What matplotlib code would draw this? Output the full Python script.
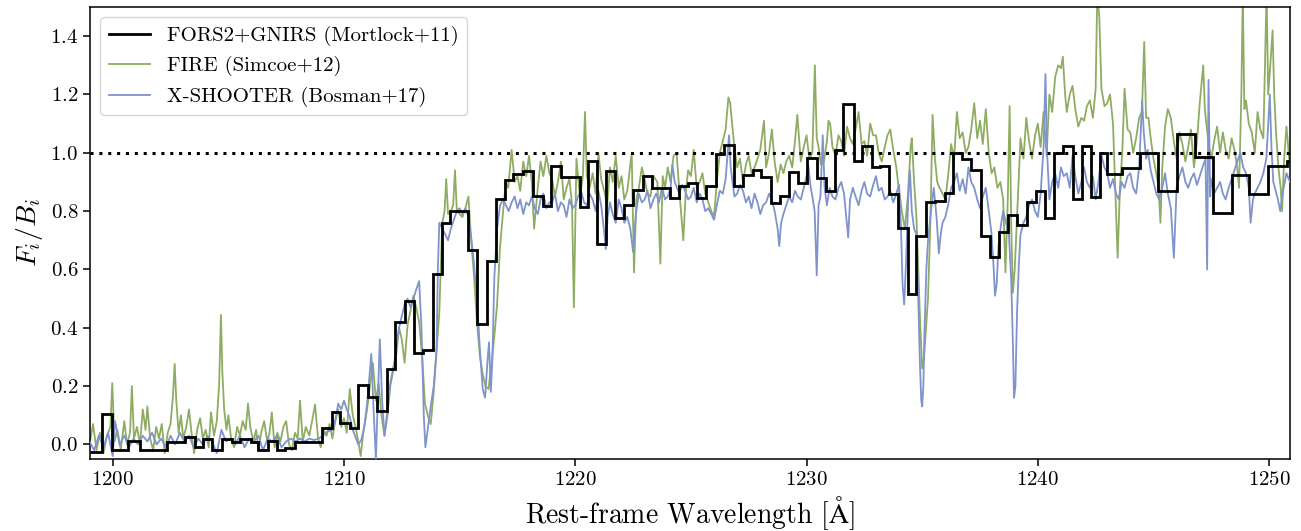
import numpy as np
import matplotlib
matplotlib.use("Agg")
import matplotlib.pyplot as plt

plt.rcParams["font.family"] = "serif"
plt.rcParams["font.serif"] = ["cmr10", "DejaVu Serif"]
plt.rcParams["mathtext.fontset"] = "cm"
plt.rcParams["axes.formatter.use_mathtext"] = True

# binned FORS2+GNIRS spectrum: bin edges and normalised flux per bin
fors_edges = [1199.0, 1199.55, 1199.96, 1200.67, 1201.18, 1202.33, 1203.13, 1203.56, 1203.92, 1204.28,
              1204.71, 1205.14, 1205.5, 1206.0, 1206.3, 1206.7, 1207.09, 1207.45, 1207.88, 1209.04,
              1209.47, 1209.83, 1210.26, 1210.62, 1211.05, 1211.44, 1211.85, 1212.2, 1212.64, 1213.03,
              1213.4, 1213.83, 1214.22, 1214.58, 1215.37, 1215.76, 1216.17, 1216.57, 1216.96, 1217.32,
              1217.75, 1218.18, 1218.59, 1218.95, 1219.37, 1220.2, 1220.54, 1220.93, 1221.33, 1221.72,
              1222.1, 1222.51, 1222.91, 1223.3, 1224.09, 1224.48, 1224.89, 1225.25, 1225.65, 1226.08,
              1226.44, 1226.86, 1227.26, 1227.67, 1228.03, 1228.45, 1228.85, 1229.25, 1229.62, 1230.03,
              1230.44, 1230.83, 1231.23, 1231.59, 1232.03, 1232.39, 1232.82, 1233.18, 1233.58, 1233.97,
              1234.37, 1234.73, 1235.16, 1235.55, 1235.97, 1236.34, 1236.74, 1237.13, 1237.53, 1237.93,
              1238.33, 1238.72, 1239.08, 1239.52, 1239.92, 1240.31, 1240.7, 1241.1, 1241.5, 1241.89,
              1242.28, 1242.68, 1243.0, 1243.62, 1244.41, 1245.2, 1246.0, 1246.79, 1247.58, 1248.38,
              1249.14, 1249.96, 1250.76, 1251.0]
fors_flux = [-0.027, 0.104, -0.02, 0.012, -0.02, 0.007, 0.026, -0.008, 0.018, -0.02,
             0.017, 0.01, 0.017, 0.007, -0.02, 0.012, -0.02, -0.013, 0.01, 0.055,
             0.11, 0.072, 0.057, 0.204, 0.164, 0.116, 0.258, 0.421, 0.493, 0.313,
             0.324, 0.585, 0.761, 0.801, 0.665, 0.413, 0.63, 0.842, 0.906, 0.928,
             0.939, 0.851, 0.819, 0.954, 0.917, 0.814, 0.971, 0.687, 0.937, 0.776,
             0.822, 0.871, 0.922, 0.879, 0.845, 0.885, 0.897, 0.845, 0.887, 0.997,
             1.028, 0.887, 0.925, 0.94, 0.917, 0.828, 0.853, 0.933, 0.897, 0.982,
             0.914, 0.868, 1.011, 1.169, 0.971, 1.022, 0.952, 0.956, 0.86, 0.742,
             0.516, 0.716, 0.83, 0.836, 0.862, 1.0, 0.979, 0.942, 0.716, 0.642,
             0.727, 0.788, 0.753, 0.83, 0.868, 0.776, 1.0, 1.022, 0.842, 1.022,
             0.849, 1.0, 0.927, 0.948, 1.0, 0.868, 1.065, 0.985, 0.794, 0.925,
             0.86, 0.954, 0.971]

# FIRE spectrum (wavelength, F/B)
fire = np.array([
    (1199.0, 0.0), (1199.15, 0.07), (1199.3, -0.02), (1199.45, 0.04), (1199.6, -0.03), (1199.75, 0.03),
    (1199.9, 0.06), (1199.98, 0.21), (1200.08, 0.01), (1200.2, 0.05), (1200.35, -0.02), (1200.5, 0.08),
    (1200.62, 0.0), (1200.75, 0.04), (1200.83, 0.2), (1200.92, 0.02), (1201.05, 0.06), (1201.18, 0.0),
    (1201.3, 0.12), (1201.42, 0.05), (1201.5, 0.13), (1201.62, 0.02), (1201.75, -0.02), (1201.88, 0.06),
    (1202.0, 0.02), (1202.12, 0.07), (1202.25, -0.03), (1202.38, 0.04), (1202.5, 0.07), (1202.6, 0.16),
    (1202.68, 0.276), (1202.75, 0.15), (1202.85, 0.04), (1202.95, 0.1), (1203.05, 0.02), (1203.18, 0.06),
    (1203.3, 0.12), (1203.42, 0.03), (1203.52, -0.03), (1203.65, 0.05), (1203.78, 0.09), (1203.9, 0.02),
    (1204.02, 0.05), (1204.15, -0.01), (1204.25, 0.11), (1204.38, 0.03), (1204.5, 0.08), (1204.6, 0.2),
    (1204.68, 0.444), (1204.74, 0.25), (1204.82, 0.12), (1204.92, 0.05), (1205.0, 0.1), (1205.12, 0.02),
    (1205.25, -0.01), (1205.38, 0.06), (1205.5, 0.03), (1205.62, 0.08), (1205.75, 0.05), (1205.85, 0.14),
    (1205.95, 0.06), (1206.08, 0.01), (1206.2, 0.05), (1206.3, -0.02), (1206.42, 0.04), (1206.55, 0.08),
    (1206.68, 0.01), (1206.78, 0.04), (1206.88, 0.11), (1207.0, -0.01), (1207.12, 0.04), (1207.25, 0.01),
    (1207.38, 0.06), (1207.5, 0.08), (1207.62, 0.0), (1207.75, -0.02), (1207.88, 0.04), (1208.0, 0.02),
    (1208.1, 0.15), (1208.22, 0.01), (1208.35, 0.06), (1208.5, 0.03), (1208.62, 0.08), (1208.75, 0.137),
    (1208.88, 0.02), (1209.0, -0.01), (1209.12, 0.05), (1209.25, 0.03), (1209.38, 0.07), (1209.5, 0.02),
    (1209.62, 0.08), (1209.75, 0.12), (1209.88, 0.06), (1210.0, 0.09), (1210.12, 0.04), (1210.25, 0.19),
    (1210.38, 0.1), (1210.5, 0.06), (1210.62, 0.01), (1210.72, -0.04), (1210.85, 0.05), (1211.0, 0.12),
    (1211.12, 0.2), (1211.25, 0.28), (1211.38, 0.15), (1211.5, 0.21), (1211.62, 0.1), (1211.75, 0.03),
    (1211.88, 0.12), (1212.0, 0.21), (1212.12, 0.26), (1212.25, 0.3), (1212.38, 0.4), (1212.5, 0.36),
    (1212.62, 0.28), (1212.75, 0.41), (1212.88, 0.46), (1213.0, 0.51), (1213.12, 0.47), (1213.25, 0.42),
    (1213.38, 0.3), (1213.5, 0.14), (1213.62, 0.1), (1213.75, 0.07), (1213.88, 0.18), (1214.0, 0.32),
    (1214.12, 0.45), (1214.25, 0.76), (1214.35, 0.8), (1214.42, 0.91), (1214.5, 0.79), (1214.62, 0.8),
    (1214.72, 0.82), (1214.8, 0.94), (1214.88, 0.8), (1215.0, 0.79), (1215.12, 0.78), (1215.25, 0.81),
    (1215.38, 0.85), (1215.5, 0.7), (1215.62, 0.58), (1215.75, 0.42), (1215.88, 0.3), (1216.0, 0.24),
    (1216.12, 0.2), (1216.25, 0.19), (1216.38, 0.28), (1216.5, 0.37), (1216.62, 0.48), (1216.75, 0.68),
    (1216.88, 0.8), (1217.0, 0.9), (1217.1, 0.88), (1217.25, 1.01), (1217.38, 0.9), (1217.5, 0.92),
    (1217.62, 0.87), (1217.75, 0.97), (1217.88, 0.92), (1218.0, 0.99), (1218.12, 0.9), (1218.22, 0.74),
    (1218.38, 0.88), (1218.5, 0.97), (1218.62, 0.92), (1218.75, 0.99), (1218.88, 0.93), (1219.0, 0.91),
    (1219.12, 0.85), (1219.25, 0.9), (1219.38, 0.97), (1219.5, 0.84), (1219.62, 0.88), (1219.75, 0.91),
    (1219.86, 0.82), (1219.94, 0.47), (1220.05, 0.98), (1220.2, 0.85), (1220.33, 0.92), (1220.42, 1.14),
    (1220.5, 0.92), (1220.62, 0.88), (1220.75, 0.93), (1220.88, 0.86), (1221.0, 1.0), (1221.12, 0.91),
    (1221.25, 0.87), (1221.38, 0.82), (1221.5, 0.95), (1221.62, 0.9), (1221.75, 0.99), (1221.88, 0.88),
    (1222.0, 0.92), (1222.12, 0.84), (1222.25, 0.87), (1222.44, 1.0), (1222.54, 0.59), (1222.64, 0.84),
    (1222.75, 0.88), (1222.88, 0.95), (1223.0, 0.91), (1223.12, 0.86), (1223.25, 0.85), (1223.38, 0.92),
    (1223.55, 0.9), (1223.68, 0.62), (1223.78, 0.92), (1223.88, 0.88), (1224.0, 0.95), (1224.12, 0.9),
    (1224.25, 0.99), (1224.38, 1.0), (1224.5, 0.87), (1224.67, 0.7), (1224.78, 0.87), (1224.88, 0.94),
    (1225.0, 0.92), (1225.12, 1.01), (1225.25, 0.88), (1225.38, 0.9), (1225.5, 0.93), (1225.62, 0.86),
    (1225.75, 0.83), (1225.88, 0.8), (1226.0, 0.78), (1226.12, 0.9), (1226.25, 1.0), (1226.38, 1.04),
    (1226.5, 1.08), (1226.62, 1.19), (1226.7, 1.17), (1226.78, 1.1), (1226.88, 1.02), (1227.0, 0.95),
    (1227.12, 0.98), (1227.25, 0.9), (1227.38, 0.96), (1227.5, 0.99), (1227.62, 0.93), (1227.75, 0.95),
    (1227.88, 0.98), (1228.0, 1.01), (1228.16, 1.11), (1228.25, 0.95), (1228.38, 1.0), (1228.5, 1.08),
    (1228.62, 0.97), (1228.75, 0.9), (1228.88, 0.96), (1229.0, 0.93), (1229.12, 0.97), (1229.25, 0.99),
    (1229.38, 0.95), (1229.5, 1.04), (1229.6, 1.13), (1229.75, 0.97), (1229.88, 1.02), (1230.0, 1.06),
    (1230.12, 0.98), (1230.25, 1.0), (1230.36, 1.3), (1230.44, 1.05), (1230.52, 1.02), (1230.62, 0.96),
    (1230.75, 0.97), (1230.88, 1.04), (1230.95, 1.11), (1231.02, 1.1), (1231.12, 1.02), (1231.25, 0.99),
    (1231.38, 1.06), (1231.5, 1.04), (1231.62, 0.99), (1231.75, 1.09), (1231.88, 1.05), (1232.0, 1.03),
    (1232.12, 1.08), (1232.25, 1.14), (1232.38, 1.03), (1232.5, 1.04), (1232.62, 0.99), (1232.75, 1.1),
    (1232.88, 1.06), (1233.0, 1.06), (1233.12, 1.0), (1233.25, 0.97), (1233.38, 1.02), (1233.5, 1.06),
    (1233.62, 1.08), (1233.75, 1.01), (1233.88, 0.95), (1234.0, 0.87), (1234.12, 0.8), (1234.25, 0.74),
    (1234.38, 0.85), (1234.5, 1.02), (1234.55, 1.05), (1234.65, 0.9), (1234.75, 0.78), (1234.85, 0.55),
    (1234.92, 0.4), (1235.0, 0.26), (1235.08, 0.3), (1235.15, 0.38), (1235.25, 0.5), (1235.35, 0.75),
    (1235.45, 1.13), (1235.55, 0.98), (1235.65, 0.9), (1235.75, 0.88), (1235.88, 0.86), (1236.0, 0.84),
    (1236.12, 0.92), (1236.25, 1.03), (1236.38, 0.98), (1236.5, 1.14), (1236.62, 1.05), (1236.75, 1.07),
    (1236.88, 1.0), (1237.0, 1.02), (1237.12, 1.08), (1237.25, 1.17), (1237.38, 1.05), (1237.5, 1.11),
    (1237.62, 1.03), (1237.75, 1.15), (1237.88, 1.0), (1238.0, 0.93), (1238.12, 0.95), (1238.25, 0.88),
    (1238.38, 0.9), (1238.5, 0.84), (1238.6, 0.59), (1238.7, 0.84), (1238.78, 1.16), (1238.85, 0.75),
    (1238.92, 0.52), (1239.0, 0.6), (1239.1, 0.78), (1239.25, 1.05), (1239.38, 0.98), (1239.5, 1.12),
    (1239.62, 1.04), (1239.75, 0.98), (1239.88, 1.06), (1240.0, 1.1), (1240.12, 1.02), (1240.25, 1.14),
    (1240.38, 0.99), (1240.5, 1.2), (1240.62, 1.14), (1240.75, 1.26), (1240.88, 1.3), (1241.0, 1.29),
    (1241.08, 1.33), (1241.18, 1.2), (1241.25, 1.14), (1241.38, 1.2), (1241.5, 1.23), (1241.62, 1.15),
    (1241.75, 1.09), (1241.88, 1.12), (1242.0, 1.11), (1242.12, 1.16), (1242.25, 1.18), (1242.38, 1.12),
    (1242.5, 1.22), (1242.57, 1.55), (1242.66, 1.46), (1242.75, 1.22), (1242.88, 1.16), (1243.0, 1.17),
    (1243.12, 1.2), (1243.25, 1.1), (1243.38, 0.8), (1243.45, 0.64), (1243.55, 0.88), (1243.65, 1.0),
    (1243.75, 1.22), (1243.88, 1.08), (1244.0, 1.07), (1244.12, 1.0), (1244.25, 1.05), (1244.38, 1.12),
    (1244.5, 1.14), (1244.6, 1.38), (1244.68, 1.12), (1244.78, 1.12), (1244.88, 1.05), (1245.0, 0.98),
    (1245.12, 0.93), (1245.22, 0.88), (1245.3, 0.76), (1245.38, 0.95), (1245.5, 1.09), (1245.62, 1.15),
    (1245.75, 1.12), (1245.88, 1.04), (1246.0, 0.98), (1246.12, 1.07), (1246.25, 1.03), (1246.38, 0.97),
    (1246.5, 1.02), (1246.62, 1.08), (1246.75, 0.95), (1246.88, 1.04), (1247.0, 1.17), (1247.15, 1.3),
    (1247.22, 1.15), (1247.3, 1.09), (1247.4, 1.02), (1247.5, 0.98), (1247.62, 1.04), (1247.75, 1.09),
    (1247.88, 1.0), (1248.0, 1.07), (1248.12, 1.01), (1248.25, 0.98), (1248.38, 1.05), (1248.5, 1.01),
    (1248.62, 0.95), (1248.7, 0.88), (1248.8, 1.2), (1248.86, 1.55), (1248.93, 1.15), (1249.0, 1.18),
    (1249.12, 1.1), (1249.25, 1.07), (1249.38, 1.0), (1249.5, 1.14), (1249.62, 1.08), (1249.75, 1.05),
    (1249.89, 1.55), (1249.96, 1.2), (1250.05, 1.3), (1250.15, 1.42), (1250.22, 1.2), (1250.3, 1.07),
    (1250.4, 0.95), (1250.5, 0.88), (1250.56, 0.8), (1250.65, 0.98), (1250.75, 1.09), (1250.9, 0.95),
])

# X-SHOOTER spectrum (wavelength, F/B)
xshooter = np.array([
    (1199.0, 0.01), (1199.2, -0.02), (1199.4, 0.03), (1199.6, -0.01), (1199.8, 0.04), (1200.0, -0.04),
    (1200.1, 0.08), (1200.3, 0.0), (1200.5, 0.03), (1200.7, -0.01), (1200.9, 0.02), (1201.1, 0.0),
    (1201.3, 0.03), (1201.5, 0.01), (1201.7, 0.04), (1201.9, 0.0), (1202.1, 0.02), (1202.3, -0.01),
    (1202.5, 0.03), (1202.7, 0.0), (1202.9, 0.04), (1203.1, 0.01), (1203.3, 0.03), (1203.5, -0.01),
    (1203.7, 0.02), (1203.9, 0.0), (1204.1, 0.03), (1204.3, 0.01), (1204.5, -0.03), (1204.7, 0.05),
    (1204.9, 0.01), (1205.1, 0.02), (1205.3, 0.0), (1205.5, 0.03), (1205.7, -0.01), (1205.9, 0.02),
    (1206.1, 0.01), (1206.3, 0.03), (1206.5, -0.02), (1206.7, 0.02), (1206.9, 0.01), (1207.1, 0.03),
    (1207.3, -0.01), (1207.5, 0.01), (1207.7, 0.02), (1207.9, 0.01), (1208.1, 0.02), (1208.3, 0.01),
    (1208.5, 0.02), (1208.7, 0.015), (1208.9, 0.02), (1209.1, 0.03), (1209.3, 0.045),
    (1209.5, 0.05), (1209.62, 0.08), (1209.75, 0.14), (1209.88, 0.12), (1210.0, 0.15), (1210.12, 0.12),
    (1210.25, 0.095), (1210.38, 0.05), (1210.5, 0.025), (1210.62, 0.0), (1210.75, 0.015), (1210.88, 0.06),
    (1211.0, 0.14), (1211.12, 0.25), (1211.18, 0.31), (1211.28, 0.12), (1211.38, -0.05), (1211.46, 0.15),
    (1211.55, 0.36), (1211.65, 0.15), (1211.75, 0.03), (1211.88, 0.1), (1212.0, 0.2), (1212.12, 0.25),
    (1212.25, 0.32), (1212.38, 0.4), (1212.5, 0.44), (1212.62, 0.48), (1212.75, 0.5), (1212.88, 0.47),
    (1213.0, 0.5), (1213.12, 0.53), (1213.25, 0.56), (1213.35, 0.4), (1213.45, 0.1), (1213.52, -0.01),
    (1213.62, 0.05), (1213.75, 0.13), (1213.88, 0.2), (1214.0, 0.32), (1214.06, 0.6), (1214.12, 0.76),
    (1214.25, 0.74), (1214.38, 0.72), (1214.5, 0.7), (1214.62, 0.74), (1214.75, 0.77), (1214.88, 0.8),
    (1215.0, 0.81), (1215.12, 0.79), (1215.25, 0.81), (1215.38, 0.78), (1215.5, 0.71), (1215.62, 0.62),
    (1215.75, 0.5), (1215.88, 0.32), (1216.0, 0.19), (1216.1, 0.16), (1216.2, 0.28), (1216.27, 0.35),
    (1216.35, 0.18), (1216.42, 0.3), (1216.5, 0.57), (1216.62, 0.74), (1216.75, 0.82), (1216.88, 0.84),
    (1217.0, 0.82), (1217.12, 0.8), (1217.25, 0.83), (1217.38, 0.85), (1217.5, 0.81), (1217.62, 0.84),
    (1217.75, 0.79), (1217.88, 0.83), (1218.0, 0.82), (1218.12, 0.85), (1218.25, 0.81), (1218.38, 0.79),
    (1218.5, 0.84), (1218.62, 0.86), (1218.75, 0.81), (1218.88, 0.83), (1219.0, 0.83), (1219.12, 0.86),
    (1219.25, 0.8), (1219.38, 0.83), (1219.5, 0.82), (1219.62, 0.78), (1219.75, 0.84), (1219.88, 0.81),
    (1220.0, 0.82), (1220.12, 0.85), (1220.25, 0.87), (1220.38, 0.83), (1220.5, 0.82), (1220.62, 0.86),
    (1220.75, 0.84), (1220.88, 0.8), (1221.0, 0.87), (1221.12, 0.82), (1221.25, 0.73), (1221.32, 0.67),
    (1221.4, 0.78), (1221.5, 0.83), (1221.62, 0.79), (1221.75, 0.76), (1221.88, 0.84), (1222.0, 0.81),
    (1222.12, 0.76), (1222.25, 0.78), (1222.38, 0.74), (1222.5, 0.66), (1222.62, 0.79), (1222.75, 0.86),
    (1222.88, 0.83), (1223.0, 0.84), (1223.12, 0.87), (1223.25, 0.81), (1223.38, 0.84), (1223.5, 0.86),
    (1223.62, 0.83), (1223.75, 0.88), (1223.88, 0.84), (1224.0, 0.85), (1224.12, 0.88), (1224.2, 0.96),
    (1224.3, 0.9), (1224.5, 0.86), (1224.62, 0.89), (1224.75, 0.87), (1224.88, 0.84), (1225.0, 0.85),
    (1225.12, 0.88), (1225.25, 0.83), (1225.38, 0.86), (1225.5, 0.84), (1225.62, 0.8), (1225.75, 0.81),
    (1225.88, 0.79), (1226.0, 0.77), (1226.12, 0.82), (1226.25, 0.87), (1226.38, 0.86), (1226.5, 0.91),
    (1226.65, 1.06), (1226.72, 0.95), (1226.8, 0.9), (1226.88, 0.85), (1227.0, 0.86), (1227.12, 0.89),
    (1227.25, 0.87), (1227.38, 0.83), (1227.5, 0.85), (1227.62, 0.81), (1227.75, 0.86), (1227.88, 0.83),
    (1228.0, 0.79), (1228.12, 0.82), (1228.25, 0.83), (1228.38, 0.86), (1228.5, 0.84), (1228.62, 0.8),
    (1228.75, 0.74), (1228.82, 0.68), (1228.9, 0.76), (1229.0, 0.79), (1229.12, 0.82), (1229.25, 0.85),
    (1229.38, 0.83), (1229.5, 0.87), (1229.62, 0.85), (1229.75, 0.84), (1229.88, 0.88), (1230.0, 0.92),
    (1230.07, 0.96), (1230.18, 0.88), (1230.25, 0.85), (1230.35, 0.8), (1230.44, 0.58), (1230.52, 0.82),
    (1230.6, 0.85), (1230.7, 1.06), (1230.78, 0.88), (1230.88, 0.82), (1231.0, 0.88), (1231.12, 0.85),
    (1231.25, 0.84), (1231.38, 0.88), (1231.5, 0.9), (1231.62, 0.86), (1231.8, 0.71), (1231.88, 0.84),
    (1232.0, 0.88), (1232.12, 0.85), (1232.25, 0.82), (1232.38, 0.87), (1232.5, 0.9), (1232.62, 0.86),
    (1232.75, 0.85), (1232.88, 0.89), (1233.0, 0.92), (1233.12, 0.87), (1233.25, 0.88), (1233.38, 0.84),
    (1233.5, 0.85), (1233.62, 0.87), (1233.75, 0.83), (1233.88, 0.86), (1234.0, 0.89), (1234.08, 0.75),
    (1234.15, 0.55), (1234.22, 0.48), (1234.3, 0.62), (1234.4, 0.85), (1234.47, 0.94), (1234.55, 0.8),
    (1234.65, 0.74), (1234.75, 0.72), (1234.83, 0.5), (1234.9, 0.28), (1234.96, 0.15), (1235.0, 0.13),
    (1235.05, 0.2), (1235.1, 0.39), (1235.18, 0.6), (1235.25, 0.7), (1235.38, 0.8), (1235.5, 0.88),
    (1235.62, 0.78), (1235.72, 0.655), (1235.8, 0.72), (1235.88, 0.76), (1236.0, 0.78), (1236.12, 0.82),
    (1236.25, 0.88), (1236.38, 0.9), (1236.5, 0.93), (1236.62, 0.87), (1236.75, 0.91), (1236.88, 0.86),
    (1237.0, 0.95), (1237.12, 0.9), (1237.25, 0.88), (1237.38, 0.84), (1237.5, 0.81), (1237.62, 0.85),
    (1237.75, 0.88), (1237.88, 0.8), (1238.0, 0.72), (1238.08, 0.62), (1238.15, 0.51), (1238.22, 0.55),
    (1238.3, 0.68), (1238.4, 0.75), (1238.5, 0.8), (1238.62, 0.76), (1238.75, 0.72), (1238.85, 0.56),
    (1238.92, 0.35), (1238.97, 0.16), (1239.03, 0.2), (1239.1, 0.45), (1239.18, 0.62), (1239.25, 0.72),
    (1239.38, 0.76), (1239.5, 0.78), (1239.62, 0.82), (1239.75, 0.84), (1239.88, 0.8), (1240.0, 0.78),
    (1240.12, 0.86), (1240.25, 1.02), (1240.33, 1.27), (1240.4, 1.0), (1240.5, 0.84), (1240.62, 0.9),
    (1240.75, 0.93), (1240.88, 0.88), (1241.0, 0.95), (1241.12, 0.92), (1241.25, 0.93), (1241.38, 0.88),
    (1241.5, 0.99), (1241.62, 0.92), (1241.75, 0.86), (1241.88, 0.9), (1242.0, 0.95), (1242.12, 0.9),
    (1242.25, 0.88), (1242.38, 0.92), (1242.5, 0.84), (1242.62, 0.9), (1242.75, 0.99), (1242.88, 0.95),
    (1243.0, 0.93), (1243.12, 0.88), (1243.25, 0.91), (1243.38, 0.86), (1243.5, 0.84), (1243.62, 0.9),
    (1243.75, 0.88), (1243.88, 0.92), (1244.0, 0.93), (1244.12, 0.88), (1244.25, 0.86), (1244.38, 0.95),
    (1244.51, 1.18), (1244.58, 1.07), (1244.68, 0.98), (1244.75, 1.01), (1244.88, 0.94), (1245.0, 0.9),
    (1245.12, 0.86), (1245.25, 0.84), (1245.38, 0.88), (1245.5, 0.93), (1245.62, 0.86), (1245.75, 0.81),
    (1245.88, 0.64), (1245.95, 0.78), (1246.0, 0.88), (1246.12, 0.92), (1246.25, 0.95), (1246.38, 0.9),
    (1246.5, 0.88), (1246.62, 0.91), (1246.75, 0.93), (1246.88, 0.89), (1247.0, 0.92), (1247.12, 0.95),
    (1247.25, 0.98), (1247.32, 0.6), (1247.38, 1.25), (1247.45, 0.85), (1247.5, 0.91), (1247.62, 0.86),
    (1247.75, 0.88), (1247.88, 0.9), (1248.0, 0.86), (1248.12, 0.84), (1248.25, 0.88), (1248.38, 0.91),
    (1248.5, 0.94), (1248.62, 0.97), (1248.75, 1.0), (1248.88, 0.95), (1249.0, 0.93), (1249.12, 0.88),
    (1249.2, 0.76), (1249.3, 0.84), (1249.38, 0.86), (1249.5, 0.88), (1249.62, 0.9), (1249.75, 0.93),
    (1249.88, 0.98), (1250.03, 1.2), (1250.1, 1.02), (1250.18, 0.9), (1250.25, 0.88), (1250.38, 0.84),
    (1250.48, 0.8), (1250.58, 0.86), (1250.75, 0.93), (1250.9, 0.9),
])

green = "#8fac63"
blue = "#7f93cc"

fig = plt.figure(figsize=(13.01, 5.31), dpi=100)
ax = fig.add_axes([0.0692, 0.1356, 0.9223, 0.8512])

ax.stairs(fors_flux, fors_edges, baseline=None, color="black", lw=2.0, zorder=4,
          label="FORS2+GNIRS (Mortlock+11)")
ax.plot(fire[:, 0], fire[:, 1], color=green, lw=1.3, zorder=2, label="FIRE (Simcoe+12)")
ax.plot(xshooter[:, 0], xshooter[:, 1], color=blue, lw=1.3, zorder=3, label="X-SHOOTER (Bosman+17)")
ax.axhline(1.0, color="black", ls=(0, (1, 1.9)), lw=2.2, zorder=5)

ax.set_xlim(1199.02, 1250.9)
ax.set_ylim(-0.05, 1.5)
ax.set_xticks([1200, 1210, 1220, 1230, 1240, 1250])
ax.set_yticks([0.0, 0.2, 0.4, 0.6, 0.8, 1.0, 1.2, 1.4])
ax.tick_params(labelsize=15, direction="out", length=5, width=1.1)
for sp in ax.spines.values():
    sp.set_linewidth(1.1)

ax.set_xlabel(r"Rest-frame Wavelength [$\mathrm{\AA}$]", fontsize=20)
ax.set_ylabel(r"$F_i/B_i$", fontsize=20)

ax.legend(loc="upper left", fontsize=15, frameon=True, fancybox=True, framealpha=0.8,
          edgecolor="#cccccc", borderaxespad=0.5)

fig.savefig("out.png", dpi=100)
